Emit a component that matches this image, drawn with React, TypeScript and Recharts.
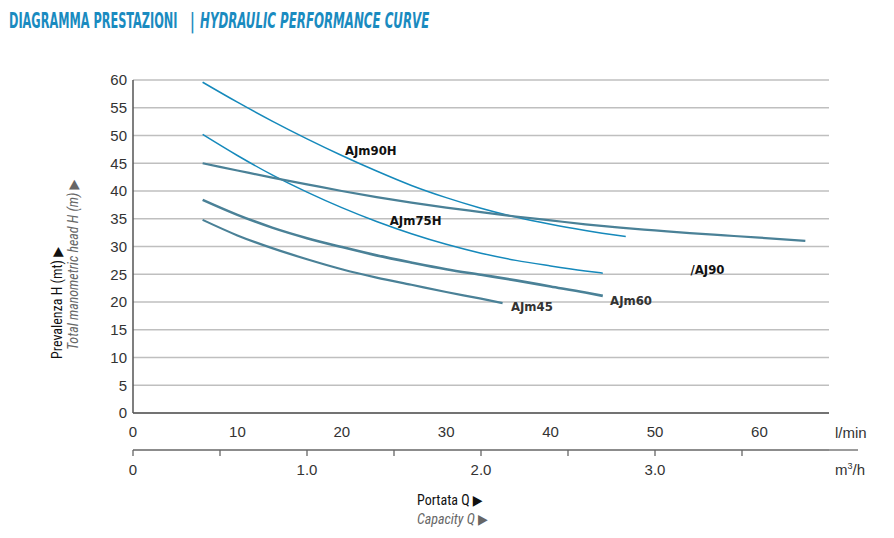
import React from 'react';
import { LineChart, Line, XAxis, YAxis, CartesianGrid, ReferenceDot } from 'recharts';

// flow in l/min, head in m
const flowAJm90H = [6.67, 10, 13.33, 16.67, 20, 23.33, 26.67, 30, 33.33, 36.67, 40, 43.33, 47.2];
const headAJm90H = [59.6, 56.0, 52.6, 49.4, 46.4, 43.6, 41.0, 38.8, 36.9, 35.3, 34.0, 32.9, 31.8];

const flowAJm75H = [6.67, 10, 13.33, 16.67, 20, 23.33, 26.67, 30, 33.33, 36.67, 40, 43.33, 45];
const headAJm75H = [50.2, 46.4, 42.9, 39.8, 37.0, 34.5, 32.3, 30.4, 28.8, 27.5, 26.5, 25.6, 25.2];

const flowAJ90 = [6.67, 10, 13.33, 16.67, 20, 23.33, 26.67, 30, 33.33, 36.67, 40, 43.33, 46.67, 50, 53.33, 56.67, 60, 64.4];
const headAJ90 = [45.0, 43.7, 42.4, 41.2, 40.0, 38.9, 37.9, 37.0, 36.2, 35.4, 34.7, 34.0, 33.4, 32.9, 32.4, 32.0, 31.6, 31.0];

const flowAJm60 = [6.67, 10, 13.33, 16.67, 20, 23.33, 26.67, 30, 33.33, 36.67, 40, 43.33, 45];
const headAJm60 = [38.4, 35.7, 33.4, 31.5, 29.9, 28.4, 27.1, 25.9, 24.9, 23.9, 22.8, 21.7, 21.1];

const flowAJm45 = [6.67, 10, 13.33, 16.67, 20, 23.33, 26.67, 30, 33.33, 35.4];
const headAJm45 = [34.8, 32.0, 29.7, 27.7, 25.9, 24.4, 23.1, 21.8, 20.6, 19.8];

const lpmTicks = [0, 10, 20, 30, 40, 50, 60];
const m3hTicks = [0, 0.5, 1, 1.5, 2, 2.5, 3, 3.5];
const headTicks = [0, 5, 10, 15, 20, 25, 30, 35, 40, 45, 50, 55, 60];

// curve labels: [text, flow, head, colour]
const curveLabels: [string, number, number, string][] = [
  ['AJm90H', 20.3, 47.4, '#111'],
  ['AJm75H', 24.6, 34.8, '#111'],
  ['/AJ90', 53.4, 25.9, '#111'],
  ['AJm60', 45.7, 20.4, '#333'],
  ['AJm45', 36.2, 19.3, '#333'],
];

const LPM_MAX = 200 / 3; // 4 m3/h
const LPM_TO_M3H = 0.06;
const gridX = Array.from({ length: 21 }, (_, i) => (i * LPM_MAX) / 20);

const toPoints = (f: number[], h: number[]) => f.map((q, i) => ({ q, m: q * LPM_TO_M3H, h: h[i] }));

const BLUE = '#1589bb';
const STEEL = '#4a8197';

const series = [
  { name: 'AJm90H', data: toPoints(flowAJm90H, headAJm90H), color: BLUE, w: 1.5 },
  { name: 'AJm75H', data: toPoints(flowAJm75H, headAJm75H), color: BLUE, w: 1.5 },
  { name: 'AJ90', data: toPoints(flowAJ90, headAJ90), color: STEEL, w: 2.2 },
  { name: 'AJm60', data: toPoints(flowAJm60, headAJm60), color: STEEL, w: 2.6 },
  { name: 'AJm45', data: toPoints(flowAJm45, headAJm45), color: STEEL, w: 2.2 },
];

const tickFont = { fontFamily: 'Liberation Sans, Arial, sans-serif', fontSize: 15, fill: '#333' };

export default function App() {
  return (
    <div style={{ position: 'absolute', left: 0, top: 0, width: 894, height: 538, background: '#fff' }}>
      <LineChart
        width={894}
        height={538}
        margin={{ top: 80, right: 65, left: 93, bottom: 50 }}
      >
        <CartesianGrid
          stroke="#bfbfbf"
          strokeWidth={1.4}
          verticalValues={gridX}
          horizontalValues={headTicks}
        />
        <XAxis
          xAxisId="lpm"
          dataKey="q"
          type="number"
          domain={[0, LPM_MAX]}
          ticks={lpmTicks}
          tickLine={false}
          tickMargin={7}
          height={37}
          axisLine={{ stroke: '#555', strokeWidth: 1.5 }}
          tick={tickFont}
          allowDataOverflow
        />
        <XAxis
          xAxisId="m3h"
          dataKey="m"
          type="number"
          domain={[0, 4]}
          ticks={m3hTicks}
          interval={0}
          tickFormatter={(v: number) => (v === 0 ? '0' : Number.isInteger(v) ? v.toFixed(1) : '')}
          tickMargin={8}
          height={38}
          axisLine={{ stroke: '#666', strokeWidth: 1.3 }}
          tickLine={{ stroke: '#666', strokeWidth: 1.3 }}
          tick={tickFont}
          allowDataOverflow
        />
        <YAxis
          dataKey="h"
          type="number"
          domain={[0, 60]}
          ticks={headTicks}
          tickLine={false}
          tickMargin={0}
          width={40}
          axisLine={{ stroke: '#555', strokeWidth: 1.5 }}
          tick={tickFont}
        />
        {series.map((s) => (
          <Line
            key={s.name}
            xAxisId="lpm"
            data={s.data}
            dataKey="h"
            type="monotone"
            stroke={s.color}
            strokeWidth={s.w}
            dot={false}
            isAnimationActive={false}
          />
        ))}
        {/* same curve on the m3/h axis, invisible, so that axis gets its ticks */}
        <Line
          xAxisId="m3h"
          data={series[2].data}
          dataKey="h"
          stroke="none"
          dot={false}
          activeDot={false}
          isAnimationActive={false}
        />
        {curveLabels.map(([t, q, h, c]) => (
          <ReferenceDot
            key={t}
            xAxisId="lpm"
            x={q}
            y={h}
            r={0}
            ifOverflow="visible"
            shape={(p: any) => (
              <text
                x={p.cx}
                y={p.cy + 5}
                fontFamily="DejaVu Sans Condensed, Liberation Sans Narrow, sans-serif"
                fontWeight="bold"
                fontSize={13}
                fill={c}
              >
                {t}
              </text>
            )}
          />
        ))}
      </LineChart>
      <svg
        width={894}
        height={538}
        style={{ position: 'absolute', left: 0, top: 0, pointerEvents: 'none' }}
      >
        <g fill="#1a8bc0" fontFamily="DejaVu Sans Condensed, sans-serif" fontWeight="bold" fontSize={21}>
          <text transform="translate(9,28) scale(0.6,1)">DIAGRAMMA PRESTAZIONI</text>
          <text transform="translate(190,28) scale(0.7,1)">|</text>
          <text transform="translate(200,28) scale(0.625,1)" fontStyle="italic">HYDRAULIC PERFORMANCE CURVE</text>
        </g>
        <line x1={829} y1={450} x2={858} y2={450} stroke="#666" strokeWidth={1.3} />
        <text x={835} y={438} {...tickFont} fontSize={15}>l/min</text>
        <text x={835} y={475} {...tickFont} fontSize={15}>
          m<tspan dy={-6} fontSize={9}>3</tspan>
          <tspan dy={6}>/h</tspan>
        </text>
        <g fontFamily="Roboto Condensed, Liberation Sans Narrow, DejaVu Sans Condensed, sans-serif" fontSize={14}>
          <text transform="translate(62,303) rotate(-90)" textAnchor="middle" fill="#111">
            Prevalenza H (mt) ▶
          </text>
          <text transform="translate(78,265) rotate(-90)" textAnchor="middle" fill="#666" fontStyle="italic">
            Total manometric head H (m) ▶
          </text>
          <text x={417} y={505} fill="#111">Portata Q ▶</text>
          <text x={417} y={524} fill="#666" fontStyle="italic">Capacity Q ▶</text>
        </g>
      </svg>
    </div>
  );
}
